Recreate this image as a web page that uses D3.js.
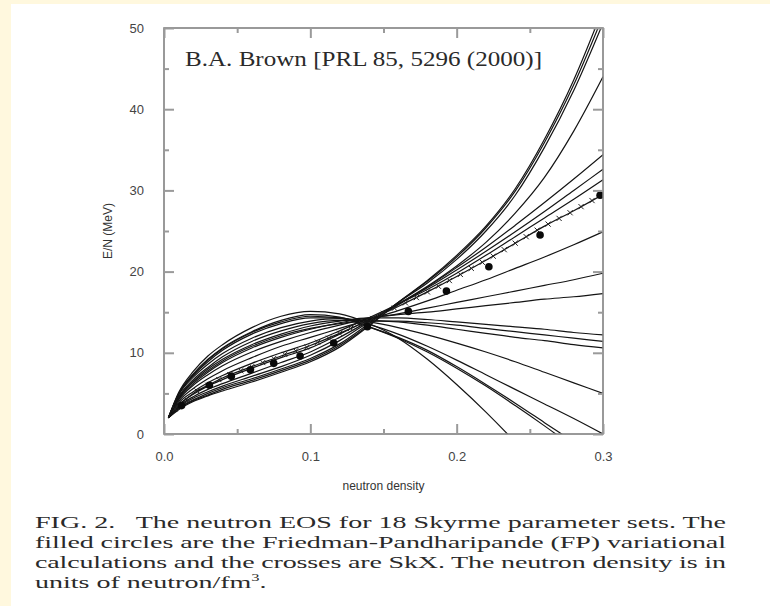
<!DOCTYPE html>
<html>
<head>
<meta charset="utf-8">
<script src="https://cdn.jsdelivr.net/npm/d3@7"></script>
<style>
  html, body { margin: 0; padding: 0; background: #fff8de; }
  #wrapper { width: 770px; height: 606px; }
</style>
</head>
<body>
<div id="wrapper"></div>
<script>
// density grid (neutron/fm^3) the Skyrme curves are sampled on
const density = [0.003, 0.01, 0.02, 0.03, 0.04, 0.06, 0.08, 0.10, 0.12, 0.14,
                 0.16, 0.18, 0.20, 0.22, 0.24, 0.26, 0.28, 0.30]

// E/N (MeV) for each Skyrme parameter set
const skyrmeCurves = [
  [2.0, 3.0, 4.0, 4.7, 5.3, 6.4, 7.6, 8.9, 10.7, 13.3, 16.2, 18.9, 22.0, 25.6, 30.2, 36.3, 43.6, 52.4],
  [2.0, 3.1, 4.1, 4.8, 5.5, 6.6, 7.8, 9.1, 10.9, 13.4, 16.2, 18.8, 21.8, 25.4, 29.9, 35.9, 43.0, 51.5],
  [2.0, 3.2, 4.2, 5.0, 5.7, 6.8, 8.0, 9.3, 11.1, 13.6, 16.2, 18.6, 21.5, 25.0, 29.4, 35.3, 42.3, 50.6],
  [2.0, 3.3, 4.4, 5.2, 5.9, 7.1, 8.3, 9.7, 11.5, 13.8, 16.0, 18.2, 20.7, 23.6, 27.2, 31.6, 37.3, 44.0],
  [2.0, 3.4, 4.6, 5.5, 6.2, 7.5, 8.8, 10.1, 11.9, 13.9, 15.9, 18.1, 20.5, 23.0, 25.7, 28.5, 31.4, 34.4],
  [2.0, 3.6, 4.9, 5.9, 6.7, 8.1, 9.4, 10.6, 12.3, 14.1, 16.0, 18.0, 20.2, 22.5, 24.9, 27.4, 30.0, 32.6],
  [2.0, 3.8, 5.2, 6.3, 7.2, 8.7, 10.0, 11.2, 12.7, 14.3, 16.0, 17.8, 19.8, 22.0, 24.3, 26.6, 28.9, 31.3],
  [2.0, 3.5, 5.0, 6.0, 6.9, 8.3, 9.6, 10.9, 12.4, 14.0, 15.7, 17.5, 19.4, 21.4, 23.5, 25.6, 27.5, 29.5],
  [2.0, 4.0, 5.6, 6.8, 7.8, 9.4, 10.8, 11.9, 13.0, 14.1, 15.2, 16.4, 17.7, 19.0, 20.4, 21.8, 23.3, 24.9],
  [2.0, 4.2, 6.0, 7.3, 8.4, 10.1, 11.4, 12.5, 13.4, 14.2, 14.8, 15.5, 16.2, 16.9, 17.6, 18.3, 19.0, 19.8],
  [2.0, 4.3, 6.2, 7.6, 8.8, 10.6, 11.9, 12.9, 13.7, 14.3, 14.7, 15.0, 15.4, 15.8, 16.2, 16.6, 16.9, 17.3],
  [2.0, 4.5, 6.5, 8.0, 9.2, 11.0, 12.3, 13.3, 13.9, 14.3, 14.3, 14.1, 13.8, 13.5, 13.2, 12.9, 12.5, 12.2],
  [2.0, 4.4, 6.4, 7.8, 9.0, 10.8, 12.1, 13.0, 13.6, 13.9, 13.9, 13.7, 13.4, 13.0, 12.6, 12.2, 11.8, 11.4],
  [2.0, 4.6, 6.7, 8.2, 9.5, 11.4, 12.7, 13.6, 14.0, 14.0, 13.8, 13.4, 12.9, 12.4, 11.9, 11.5, 11.0, 10.6],
  [2.0, 4.8, 7.0, 8.6, 9.9, 11.8, 13.1, 13.9, 14.2, 13.8, 13.1, 12.2, 11.2, 10.1, 8.9, 7.6, 6.3, 5.0],
  [2.0, 4.9, 7.2, 8.9, 10.3, 12.3, 13.6, 14.3, 14.3, 13.5, 12.3, 10.8, 9.1, 7.3, 5.5, 3.7, 1.9, 0.0],
  [2.0, 4.9, 7.3, 9.1, 10.5, 12.5, 13.8, 14.5, 14.3, 13.2, 11.9, 10.3, 8.3, 6.1, 3.8, 1.4, -1.0, -3.4],
  [2.0, 5.0, 7.4, 9.2, 10.6, 12.6, 14.0, 14.7, 14.4, 13.2, 11.8, 10.1, 8.1, 5.9, 3.5, 1.0, -1.6, -4.2],
  [2.0, 5.1, 7.7, 9.6, 11.0, 13.1, 14.5, 15.1, 14.8, 13.6, 11.8, 9.2, 6.1, 2.7, -1.0, -5.0, -9.2, -13.6],
]

// Friedman-Pandharipande variational points (filled circles)
const fpDensity = [0.012, 0.031, 0.046, 0.059, 0.075, 0.093, 0.116, 0.139, 0.167, 0.193, 0.222, 0.257, 0.298]
const fpEnergy  = [3.5, 6.0, 7.1, 7.9, 8.7, 9.6, 11.2, 13.2, 15.1, 17.6, 20.6, 24.5, 29.4]

// SkX points (crosses)
const skxDensity = [0.0075, 0.015, 0.0225, 0.03, 0.0375, 0.045, 0.0525, 0.06, 0.0675, 0.075,
                    0.0825, 0.09, 0.0975, 0.105, 0.1125, 0.12, 0.1275, 0.135, 0.1425, 0.15,
                    0.1575, 0.165, 0.1725, 0.18, 0.1875, 0.195, 0.2025, 0.21, 0.2175, 0.225,
                    0.2325, 0.24, 0.2475, 0.255, 0.2625, 0.27, 0.2775, 0.285, 0.2925, 0.30]
const skxEnergy  = [3.1, 4.3, 5.3, 6.0, 6.7, 7.3, 7.8, 8.3, 8.8, 9.3,
                    9.8, 10.25, 10.7, 11.3, 11.8, 12.4, 13.0, 13.6, 14.2, 14.85,
                    15.5, 16.15, 16.8, 17.5, 18.2, 18.9, 19.65, 20.4, 21.15, 21.9,
                    22.7, 23.5, 24.3, 25.1, 25.85, 26.55, 27.25, 28.0, 28.75, 29.5]

// ticks
const xMajorTicks = [0, 0.1, 0.2, 0.3]
const xMinorTicks = [0.05, 0.15, 0.25]
const yMajorTicks = [0, 10, 20, 30, 40, 50]
const yMinorTicks = [5, 15, 25, 35, 45]

const captionLines = [
  "FIG. 2.   The neutron EOS for 18 Skyrme parameter sets. The",
  "filled circles are the Friedman-Pandharipande (FP) variational",
  "calculations and the crosses are SkX. The neutron density is in",
]

function drawChart() {
  const dimensions = {
    width: 770,
    height: 606,
    plot: { left: 164, right: 603, top: 28, bottom: 434 },
    captionLeft: 35,
    captionWidth: 691,
  }
  const p = dimensions.plot

  const svg = d3.select("#wrapper")
    .append("svg")
      .attr("width", dimensions.width)
      .attr("height", dimensions.height)

  // white page over the cream border
  svg.append("rect")
      .attr("x", 11)
      .attr("y", 4)
      .attr("width", dimensions.width - 11)
      .attr("height", dimensions.height - 4)
      .attr("fill", "#ffffff")

  const xScale = d3.scaleLinear().domain([0, 0.3]).range([p.left, p.right])
  const yScale = d3.scaleLinear().domain([0, 50]).range([p.bottom, p.top])

  svg.append("defs").append("clipPath")
      .attr("id", "plot-clip")
    .append("rect")
      .attr("x", p.left)
      .attr("y", p.top)
      .attr("width", p.right - p.left)
      .attr("height", p.bottom - p.top)

  // curves
  const lineGen = d3.line()
    .x((d, i) => xScale(density[i]))
    .y(d => yScale(d))
    .curve(d3.curveMonotoneX)

  const curvesGroup = svg.append("g").attr("clip-path", "url(#plot-clip)")
  curvesGroup.selectAll(".skyrme")
    .data(skyrmeCurves)
    .join("path")
      .attr("class", "skyrme")
      .attr("d", lineGen)
      .attr("fill", "none")
      .attr("stroke", "#141414")
      .attr("stroke-width", 1.2)

  // SkX crosses
  const cs = 2.6
  curvesGroup.selectAll(".skx")
    .data(skxDensity)
    .join("path")
      .attr("class", "skx")
      .attr("d", (d, i) => {
        const cx = xScale(d), cy = yScale(skxEnergy[i])
        return `M${cx - cs},${cy - cs}L${cx + cs},${cy + cs}M${cx - cs},${cy + cs}L${cx + cs},${cy - cs}`
      })
      .attr("stroke", "#222")
      .attr("stroke-width", 1)

  // FP circles
  curvesGroup.selectAll(".fp")
    .data(fpDensity)
    .join("circle")
      .attr("class", "fp")
      .attr("cx", d => xScale(d))
      .attr("cy", (d, i) => yScale(fpEnergy[i]))
      .attr("r", 3.8)
      .attr("fill", "#0a0a0a")

  // frame
  svg.append("rect")
      .attr("x", p.left)
      .attr("y", p.top)
      .attr("width", p.right - p.left)
      .attr("height", p.bottom - p.top)
      .attr("fill", "none")
      .attr("stroke", "#808080")
      .attr("stroke-width", 1.6)

  const styleAxis = g => {
    g.select(".domain").remove()
    g.selectAll(".tick line").attr("stroke", "#9a9a9a").attr("stroke-width", 2)
    g.selectAll(".tick text")
      .attr("fill", "#444")
      .style("font-family", "'Liberation Sans', Arial, sans-serif")
      .style("font-size", "13px")
  }

  // ticks on all four sides, pointing inward
  svg.append("g")
      .attr("transform", `translate(0,${p.bottom})`)
      .call(d3.axisBottom(xScale).tickValues(xMajorTicks).tickSize(-10).tickPadding(18).tickFormat(d3.format(".1f")))
      .call(styleAxis)
  svg.append("g")
      .attr("transform", `translate(0,${p.bottom})`)
      .call(d3.axisBottom(xScale).tickValues(xMinorTicks).tickSize(-5).tickFormat(""))
      .call(styleAxis)
  svg.append("g")
      .attr("transform", `translate(0,${p.top})`)
      .call(d3.axisTop(xScale).tickValues(xMajorTicks).tickSize(-10).tickFormat(""))
      .call(styleAxis)
  svg.append("g")
      .attr("transform", `translate(0,${p.top})`)
      .call(d3.axisTop(xScale).tickValues(xMinorTicks).tickSize(-5).tickFormat(""))
      .call(styleAxis)

  svg.append("g")
      .attr("transform", `translate(${p.left},0)`)
      .call(d3.axisLeft(yScale).tickValues(yMajorTicks).tickSize(-10).tickPadding(20))
      .call(styleAxis)
  svg.append("g")
      .attr("transform", `translate(${p.left},0)`)
      .call(d3.axisLeft(yScale).tickValues(yMinorTicks).tickSize(-5).tickFormat(""))
      .call(styleAxis)
  svg.append("g")
      .attr("transform", `translate(${p.right},0)`)
      .call(d3.axisRight(yScale).tickValues(yMajorTicks).tickSize(-10).tickFormat(""))
      .call(styleAxis)
  svg.append("g")
      .attr("transform", `translate(${p.right},0)`)
      .call(d3.axisRight(yScale).tickValues(yMinorTicks).tickSize(-5).tickFormat(""))
      .call(styleAxis)

  // axis titles
  svg.append("text")
      .attr("x", (p.left + p.right) / 2)
      .attr("y", 490)
      .attr("text-anchor", "middle")
      .attr("fill", "#333")
      .style("font-family", "'Liberation Sans', Arial, sans-serif")
      .style("font-size", "12px")
      .text("neutron density")

  svg.append("text")
      .attr("transform", `translate(112,${(p.top + p.bottom) / 2}) rotate(-90)`)
      .attr("text-anchor", "middle")
      .attr("fill", "#333")
      .style("font-family", "'Liberation Sans', Arial, sans-serif")
      .style("font-size", "12px")
      .text("E/N (MeV)")

  // in-plot reference
  svg.append("text")
      .attr("x", 185)
      .attr("y", 66)
      .attr("textLength", 357)
      .attr("lengthAdjust", "spacingAndGlyphs")
      .attr("fill", "#2a2a2a")
      .style("font-family", "'Liberation Serif', 'Times New Roman', serif")
      .style("font-size", "21px")
      .text("B.A. Brown [PRL 85, 5296 (2000)]")

  // caption: the scan is stretched sideways, so scale the lines horizontally
  const captionFamily = "'Liberation Serif', 'Times New Roman', serif"
  const captionSize = "17px"
  const probe = svg.append("text")
      .style("font-family", captionFamily)
      .style("font-size", captionSize)
      .style("white-space", "pre")
      .text(captionLines[0])
  const stretch = dimensions.captionWidth / probe.node().getComputedTextLength()
  probe.remove()

  const caption = svg.append("g")
      .style("font-family", captionFamily)
      .style("font-size", captionSize)
      .attr("fill", "#2a2a2a")

  caption.selectAll(".cap")
    .data(captionLines)
    .join("text")
      .attr("class", "cap")
      .attr("transform", (d, i) => `translate(${dimensions.captionLeft},${528 + i * 20}) scale(${stretch},1)`)
      .attr("textLength", dimensions.captionWidth / stretch)
      .attr("lengthAdjust", "spacing")
      .style("white-space", "pre")
      .text(d => d)

  const last = caption.append("text")
      .attr("transform", `translate(${dimensions.captionLeft},588) scale(${stretch},1)`)
  last.append("tspan").text("units of neutron/fm")
  last.append("tspan").attr("dy", -7).style("font-size", "10px").text("3")
  last.append("tspan").attr("dy", 7).text(".")
}

drawChart()
</script>
</body>
</html>
